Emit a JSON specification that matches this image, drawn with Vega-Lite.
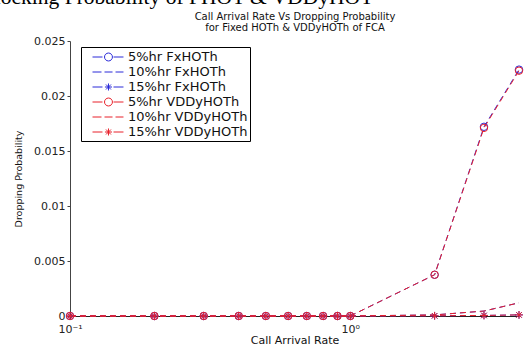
{
  "$schema": "https://vega.github.io/schema/vega-lite/v6.json",
  "width": 449,
  "height": 275,
  "autosize": {"type": "none"},
  "padding": {"left": 70, "top": 41, "right": 9, "bottom": 31},
  "background": "white",
  "config": {"view": {"stroke": null}, "font": "DejaVu Sans"},
  "data": {"values": [
    {"rate": 0.1, "prob": 0, "series": "5%hr FxHOTh", "grp": "Fx"},
    {"rate": 0.2, "prob": 0, "series": "5%hr FxHOTh", "grp": "Fx"},
    {"rate": 0.3, "prob": 0, "series": "5%hr FxHOTh", "grp": "Fx"},
    {"rate": 0.4, "prob": 0, "series": "5%hr FxHOTh", "grp": "Fx"},
    {"rate": 0.5, "prob": 0, "series": "5%hr FxHOTh", "grp": "Fx"},
    {"rate": 0.6, "prob": 0, "series": "5%hr FxHOTh", "grp": "Fx"},
    {"rate": 0.7, "prob": 0, "series": "5%hr FxHOTh", "grp": "Fx"},
    {"rate": 0.8, "prob": 0, "series": "5%hr FxHOTh", "grp": "Fx"},
    {"rate": 0.9, "prob": 0, "series": "5%hr FxHOTh", "grp": "Fx"},
    {"rate": 1.0, "prob": 0, "series": "5%hr FxHOTh", "grp": "Fx"},
    {"rate": 2, "prob": 0.00375, "series": "5%hr FxHOTh", "grp": "Fx"},
    {"rate": 3, "prob": 0.0172, "series": "5%hr FxHOTh", "grp": "Fx"},
    {"rate": 4, "prob": 0.0224, "series": "5%hr FxHOTh", "grp": "Fx"},
    {"rate": 0.1, "prob": 0, "series": "10%hr FxHOTh", "grp": "Fx"},
    {"rate": 0.2, "prob": 0, "series": "10%hr FxHOTh", "grp": "Fx"},
    {"rate": 0.3, "prob": 0, "series": "10%hr FxHOTh", "grp": "Fx"},
    {"rate": 0.4, "prob": 0, "series": "10%hr FxHOTh", "grp": "Fx"},
    {"rate": 0.5, "prob": 0, "series": "10%hr FxHOTh", "grp": "Fx"},
    {"rate": 0.6, "prob": 0, "series": "10%hr FxHOTh", "grp": "Fx"},
    {"rate": 0.7, "prob": 0, "series": "10%hr FxHOTh", "grp": "Fx"},
    {"rate": 0.8, "prob": 0, "series": "10%hr FxHOTh", "grp": "Fx"},
    {"rate": 0.9, "prob": 0, "series": "10%hr FxHOTh", "grp": "Fx"},
    {"rate": 1.0, "prob": 0, "series": "10%hr FxHOTh", "grp": "Fx"},
    {"rate": 2, "prob": 0.0001, "series": "10%hr FxHOTh", "grp": "Fx"},
    {"rate": 3, "prob": 0.00045, "series": "10%hr FxHOTh", "grp": "Fx"},
    {"rate": 4, "prob": 0.0012, "series": "10%hr FxHOTh", "grp": "Fx"},
    {"rate": 0.1, "prob": 0, "series": "15%hr FxHOTh", "grp": "Fx"},
    {"rate": 0.2, "prob": 0, "series": "15%hr FxHOTh", "grp": "Fx"},
    {"rate": 0.3, "prob": 0, "series": "15%hr FxHOTh", "grp": "Fx"},
    {"rate": 0.4, "prob": 0, "series": "15%hr FxHOTh", "grp": "Fx"},
    {"rate": 0.5, "prob": 0, "series": "15%hr FxHOTh", "grp": "Fx"},
    {"rate": 0.6, "prob": 0, "series": "15%hr FxHOTh", "grp": "Fx"},
    {"rate": 0.7, "prob": 0, "series": "15%hr FxHOTh", "grp": "Fx"},
    {"rate": 0.8, "prob": 0, "series": "15%hr FxHOTh", "grp": "Fx"},
    {"rate": 0.9, "prob": 0, "series": "15%hr FxHOTh", "grp": "Fx"},
    {"rate": 1.0, "prob": 0, "series": "15%hr FxHOTh", "grp": "Fx"},
    {"rate": 2, "prob": 0.00002, "series": "15%hr FxHOTh", "grp": "Fx"},
    {"rate": 3, "prob": 0.00005, "series": "15%hr FxHOTh", "grp": "Fx"},
    {"rate": 4, "prob": 0.0001, "series": "15%hr FxHOTh", "grp": "Fx"},
    {"rate": 0.1, "prob": 0, "series": "5%hr VDDyHOTh", "grp": "VDDy"},
    {"rate": 0.2, "prob": 0, "series": "5%hr VDDyHOTh", "grp": "VDDy"},
    {"rate": 0.3, "prob": 0, "series": "5%hr VDDyHOTh", "grp": "VDDy"},
    {"rate": 0.4, "prob": 0, "series": "5%hr VDDyHOTh", "grp": "VDDy"},
    {"rate": 0.5, "prob": 0, "series": "5%hr VDDyHOTh", "grp": "VDDy"},
    {"rate": 0.6, "prob": 0, "series": "5%hr VDDyHOTh", "grp": "VDDy"},
    {"rate": 0.7, "prob": 0, "series": "5%hr VDDyHOTh", "grp": "VDDy"},
    {"rate": 0.8, "prob": 0, "series": "5%hr VDDyHOTh", "grp": "VDDy"},
    {"rate": 0.9, "prob": 0, "series": "5%hr VDDyHOTh", "grp": "VDDy"},
    {"rate": 1.0, "prob": 0, "series": "5%hr VDDyHOTh", "grp": "VDDy"},
    {"rate": 2, "prob": 0.00375, "series": "5%hr VDDyHOTh", "grp": "VDDy"},
    {"rate": 3, "prob": 0.0171, "series": "5%hr VDDyHOTh", "grp": "VDDy"},
    {"rate": 4, "prob": 0.0223, "series": "5%hr VDDyHOTh", "grp": "VDDy"},
    {"rate": 0.1, "prob": 0, "series": "10%hr VDDyHOTh", "grp": "VDDy"},
    {"rate": 0.2, "prob": 0, "series": "10%hr VDDyHOTh", "grp": "VDDy"},
    {"rate": 0.3, "prob": 0, "series": "10%hr VDDyHOTh", "grp": "VDDy"},
    {"rate": 0.4, "prob": 0, "series": "10%hr VDDyHOTh", "grp": "VDDy"},
    {"rate": 0.5, "prob": 0, "series": "10%hr VDDyHOTh", "grp": "VDDy"},
    {"rate": 0.6, "prob": 0, "series": "10%hr VDDyHOTh", "grp": "VDDy"},
    {"rate": 0.7, "prob": 0, "series": "10%hr VDDyHOTh", "grp": "VDDy"},
    {"rate": 0.8, "prob": 0, "series": "10%hr VDDyHOTh", "grp": "VDDy"},
    {"rate": 0.9, "prob": 0, "series": "10%hr VDDyHOTh", "grp": "VDDy"},
    {"rate": 1.0, "prob": 0, "series": "10%hr VDDyHOTh", "grp": "VDDy"},
    {"rate": 2, "prob": 0.0001, "series": "10%hr VDDyHOTh", "grp": "VDDy"},
    {"rate": 3, "prob": 0.00045, "series": "10%hr VDDyHOTh", "grp": "VDDy"},
    {"rate": 4, "prob": 0.0012, "series": "10%hr VDDyHOTh", "grp": "VDDy"},
    {"rate": 0.1, "prob": 0, "series": "15%hr VDDyHOTh", "grp": "VDDy"},
    {"rate": 0.2, "prob": 0, "series": "15%hr VDDyHOTh", "grp": "VDDy"},
    {"rate": 0.3, "prob": 0, "series": "15%hr VDDyHOTh", "grp": "VDDy"},
    {"rate": 0.4, "prob": 0, "series": "15%hr VDDyHOTh", "grp": "VDDy"},
    {"rate": 0.5, "prob": 0, "series": "15%hr VDDyHOTh", "grp": "VDDy"},
    {"rate": 0.6, "prob": 0, "series": "15%hr VDDyHOTh", "grp": "VDDy"},
    {"rate": 0.7, "prob": 0, "series": "15%hr VDDyHOTh", "grp": "VDDy"},
    {"rate": 0.8, "prob": 0, "series": "15%hr VDDyHOTh", "grp": "VDDy"},
    {"rate": 0.9, "prob": 0, "series": "15%hr VDDyHOTh", "grp": "VDDy"},
    {"rate": 1.0, "prob": 0, "series": "15%hr VDDyHOTh", "grp": "VDDy"},
    {"rate": 2, "prob": 0.00002, "series": "15%hr VDDyHOTh", "grp": "VDDy"},
    {"rate": 3, "prob": 0.00005, "series": "15%hr VDDyHOTh", "grp": "VDDy"},
    {"rate": 4, "prob": 0.0001, "series": "15%hr VDDyHOTh", "grp": "VDDy"}
  ]},
  "encoding": {
    "x": {"field": "rate", "type": "quantitative", "scale": {"type": "log", "domain": [0.1, 4], "nice": false}, "axis": null},
    "y": {"field": "prob", "type": "quantitative", "scale": {"domain": [0, 0.025], "nice": false, "zero": true}, "axis": null},
    "color": {
      "field": "series", "type": "nominal",
      "scale": {
        "domain": ["5%hr FxHOTh", "10%hr FxHOTh", "15%hr FxHOTh", "5%hr VDDyHOTh", "10%hr VDDyHOTh", "15%hr VDDyHOTh"],
        "range": ["#2a2ad8", "#2a2ad8", "#2a2ad8", "#e8202a", "#e8202a", "#e8202a"]
      },
      "legend": null
    }
  },
  "resolve": {"axis": {"x": "independent", "y": "independent"}, "legend": {"color": "independent", "shape": "independent"}},
  "layer": [
    {
      "transform": [{"filter": "datum.grp == 'Fx'"}],
      "mark": {"type": "line", "strokeWidth": 1, "strokeDash": [6, 4]},
      "encoding": {
        "x": {
          "field": "rate", "type": "quantitative", "scale": {"type": "log", "domain": [0.1, 4], "nice": false},
          "axis": {
            "orient": "bottom", "values": [0.1, 1],
            "labelExpr": "datum.value < 0.5 ? '10⁻¹' : '10⁰'",
            "labelFont": "DejaVu Sans", "labelFontSize": 11, "labelColor": "#222", "labelPadding": 4, "labelFlush": false,
            "title": "Call Arrival Rate", "titleFont": "DejaVu Sans", "titleFontSize": 11, "titleFontWeight": "normal", "titleColor": "#111", "titlePadding": 0,
            "grid": false, "domainColor": "#222", "tickColor": "#444", "tickSize": 3
          }
        },
        "y": {
          "field": "prob", "type": "quantitative",
          "scale": {"domain": [0, 0.025], "nice": false, "zero": true},
          "axis": {
            "orient": "left", "values": [0, 0.005, 0.01, 0.015, 0.02, 0.025], "format": "~g",
            "title": "Dropping Probability", "titleFont": "DejaVu Sans", "titleFontSize": 9.5, "titleFontWeight": "normal", "titleColor": "#111", "titlePadding": 10,
            "labelFont": "DejaVu Sans", "labelFontSize": 11, "labelColor": "#222", "labelPadding": 2,
            "grid": false, "domainColor": "#444", "tickColor": "#444", "tickSize": 3
          }
        }
      }
    },
    {
      "transform": [{"filter": "datum.grp == 'VDDy'"}],
      "mark": {"type": "line", "strokeWidth": 1, "strokeDash": [6, 4]}
    },
    {
      "transform": [{"filter": "datum.series == '5%hr FxHOTh'"}],
      "mark": {"type": "point", "shape": "circle", "filled": false, "size": 55, "strokeWidth": 1, "opacity": 1}
    },
    {
      "transform": [{"filter": "datum.series == '15%hr FxHOTh'"}],
      "mark": {"type": "point", "shape": "M-1,0L1,0M0,-1L0,1M-0.7,-0.7L0.7,0.7M-0.7,0.7L0.7,-0.7", "filled": false, "size": 60, "strokeWidth": 1, "opacity": 1}
    },
    {
      "transform": [{"filter": "datum.series == '5%hr VDDyHOTh'"}],
      "mark": {"type": "point", "shape": "circle", "filled": false, "size": 55, "strokeWidth": 1, "opacity": 1}
    },
    {
      "transform": [{"filter": "datum.series == '15%hr VDDyHOTh'"}],
      "mark": {"type": "point", "shape": "M-1,0L1,0M0,-1L0,1M-0.7,-0.7L0.7,0.7M-0.7,0.7L0.7,-0.7", "filled": false, "size": 60, "strokeWidth": 1, "opacity": 1}
    },
    {
      "mark": {"type": "point", "filled": false, "strokeWidth": 1, "opacity": 0},
      "encoding": {
        "color": {
          "field": "series", "type": "nominal",
          "scale": {
            "domain": ["5%hr FxHOTh", "10%hr FxHOTh", "15%hr FxHOTh", "5%hr VDDyHOTh", "10%hr VDDyHOTh", "15%hr VDDyHOTh"],
            "range": ["#2a2ad8", "#2a2ad8", "#2a2ad8", "#e8202a", "#e8202a", "#e8202a"]
          },
          "legend": {
            "orient": "none", "legendX": 11, "legendY": 6, "title": null,
            "strokeColor": "#000", "fillColor": "white", "padding": 2,
            "labelFont": "DejaVu Sans", "labelFontSize": 13, "labelColor": "#111", "labelOffset": 29,
            "symbolSize": 225, "symbolStrokeWidth": 1, "symbolFillColor": "transparent", "symbolOpacity": 1, "rowPadding": 0
          }
        },
        "shape": {
          "field": "series", "type": "nominal",
          "scale": {
            "domain": ["5%hr FxHOTh", "10%hr FxHOTh", "15%hr FxHOTh", "5%hr VDDyHOTh", "10%hr VDDyHOTh", "15%hr VDDyHOTh"],
            "range": [
              "M0.2,0L1.53,0M3,0L4.33,0M2.86,0A0.53,0.53 0 1 1 1.8,0A0.53,0.53 0 1 1 2.86,0",
              "M0.2,0L1.4,0M1.8,0L2.87,0M3.27,0L4.33,0",
              "M0.2,0L1.53,0M3,0L4.33,0M1.86,0L2.8,0M2.33,-0.47L2.33,0.47M2,-0.33L2.66,0.33M2,0.33L2.66,-0.33",
              "M0.2,0L1.53,0M3,0L4.33,0M2.86,0A0.53,0.53 0 1 1 1.8,0A0.53,0.53 0 1 1 2.86,0",
              "M0.2,0L1.4,0M1.8,0L2.87,0M3.27,0L4.33,0",
              "M0.2,0L1.53,0M3,0L4.33,0M1.86,0L2.8,0M2.33,-0.47L2.33,0.47M2,-0.33L2.66,0.33M2,0.33L2.66,-0.33"
            ]
          },
          "legend": {
            "orient": "none", "legendX": 11, "legendY": 6, "title": null,
            "strokeColor": "#000", "fillColor": "white", "padding": 2,
            "labelFont": "DejaVu Sans", "labelFontSize": 13, "labelColor": "#111", "labelOffset": 29,
            "symbolSize": 225, "symbolStrokeWidth": 1, "symbolFillColor": "transparent", "symbolOpacity": 1, "rowPadding": 0
          }
        }
      }
    },
    {
      "transform": [{"filter": "datum.rate < 0"}],
      "mark": {"type": "point", "opacity": 0},
      "encoding": {
        "x": {
          "field": "rate", "type": "quantitative", "scale": {"type": "log", "domain": [0.1, 4], "nice": false},
          "axis": {
            "orient": "top", "domain": false, "ticks": false, "labels": false, "grid": false,
            "title": ["Call Arrival Rate Vs Dropping Probability", "for Fixed HOTh & VDDyHOTh of FCA"],
            "titleFont": "DejaVu Sans", "titleFontSize": 10, "titleFontWeight": "normal", "titleColor": "#111",
            "titleBaseline": "alphabetic", "titleLineHeight": 11.5, "titleY": -22
          }
        },
        "y": {
          "field": "prob", "type": "quantitative",
          "scale": {"domain": [0, 0.025], "nice": false, "zero": true},
          "axis": {
            "orient": "right", "domain": false, "ticks": false, "labels": false, "grid": false,
            "title": "Blocking Probability of FHOT & VDDyHOT",
            "titleFont": "Liberation Serif", "titleFontSize": 21.5, "titleFontWeight": "normal", "titleColor": "#000",
            "titleAngle": 0, "titleAnchor": null, "titleAlign": "left", "titleBaseline": "alphabetic",
            "titleX": -539, "titleY": -38
          }
        }
      }
    }
  ]
}
